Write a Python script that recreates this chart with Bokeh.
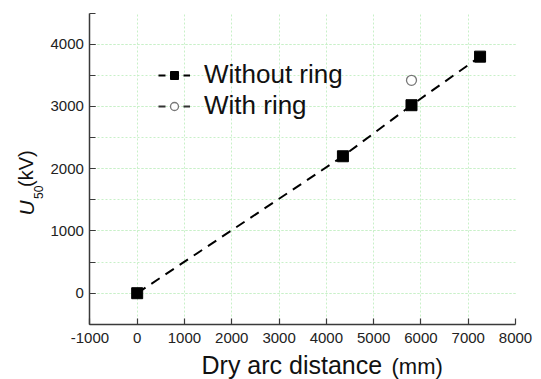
import math
from bokeh.plotting import figure
from bokeh.models import (ColumnDataSource, SingleIntervalTicker, Range1d, Legend,
                          LegendItem, Label, PrintfTickFormatter)
from bokeh.embed import file_html
from bokeh.resources import INLINE

# ---- data ----
without_x = [0, 4350, 5800, 7250]
without_y = [0, 2200, 3020, 3800]
with_x = [5800]
with_y = [3420]
label_without = "Without ring"
label_with = "With ring"
x_title_main = "Dry arc distance"
x_title_unit = "(mm)"
y_title_sym = "U"
y_title_sub = "50"
y_title_unit = "(kV)"
x_bounds = (-1000, 8000)
y_bounds = (-500, 4500)

FONT = "Liberation Sans"
W, H = 541, 379

# frame covers whole canvas; axes are placed at fixed locations inside it
p = figure(width=W, height=H, output_backend="svg", toolbar_location=None,
           x_range=Range1d(-2890, 8549), y_range=Range1d(-1386, 4702),
           min_border_left=0, min_border_right=0, min_border_top=0, min_border_bottom=0)
p.outline_line_color = None
p.background_fill_color = "white"
p.border_fill_color = "white"

xa, ya = p.xaxis[0], p.yaxis[0]
xa.fixed_location = y_bounds[0]
ya.fixed_location = x_bounds[0]
xa.bounds = x_bounds
ya.bounds = y_bounds
for ax in (xa, ya):
    ax.axis_line_color = "#3a3a3a"
    ax.axis_line_width = 1.5
    ax.major_tick_line_color = "#3a3a3a"
    ax.major_tick_line_width = 1.2
    ax.major_tick_in = 6
    ax.major_tick_out = 0
    ax.major_label_text_font = FONT
    ax.major_label_text_font_size = "15px"
    ax.major_label_text_color = "#222222"
    ax.formatter = PrintfTickFormatter(format="%d")
xa.major_label_standoff = 9
ya.major_label_standoff = 6

xa.ticker = SingleIntervalTicker(interval=1000, num_minor_ticks=0)
xa.minor_tick_line_color = None
ya.ticker = SingleIntervalTicker(interval=1000, num_minor_ticks=2)
ya.minor_tick_line_color = "#3a3a3a"
ya.minor_tick_line_width = 1.2
ya.minor_tick_in = 6
ya.minor_tick_out = 0

# grid
grid_col = "#c8f0c8"
xg, yg = p.xgrid[0], p.ygrid[0]
xg.bounds = (x_bounds[0], 7500)
yg.bounds = (y_bounds[0], 4400)
xg.cross_bounds = y_bounds
yg.cross_bounds = x_bounds
xg.grid_line_color = grid_col
xg.grid_line_dash = "2 2"
yg.grid_line_color = grid_col
yg.grid_line_dash = "2 2"
yg.minor_grid_line_color = grid_col
yg.minor_grid_line_dash = "2 2"

src_wo = ColumnDataSource(dict(x=without_x, y=without_y))
src_w = ColumnDataSource(dict(x=with_x, y=with_y))

p.line("x", "y", source=src_wo, line_color="black", line_width=2, line_dash="10 7")
sq = p.scatter("x", "y", source=src_wo, marker="square", size=11,
               fill_color="black", line_color="black")
ci = p.scatter("x", "y", source=src_w, marker="circle", size=10,
               fill_color="white", line_color="#777777", line_width=1.3)

# legend-only dashed lines (single NaN point: draws nothing in the plot)
nan_src = ColumnDataSource(dict(x=[float("nan")], y=[float("nan")]))
leg_l1 = p.line("x", "y", source=nan_src, line_color="black", line_width=2, line_dash="7 18")
leg_l2 = p.line("x", "y", source=nan_src, line_color="#333333", line_width=2, line_dash="7 18")

legend = Legend(items=[LegendItem(label=label_without, renderers=[leg_l1, sq]),
                       LegendItem(label=label_with, renderers=[leg_l2, ci])],
                location=(158, 258), glyph_width=32, glyph_height=20, label_height=20,
                spacing=0, padding=0, margin=0, label_standoff=14,
                label_text_font=FONT, label_text_font_size="26px",
                label_text_color="#111111", border_line_color=None,
                background_fill_alpha=0)
p.add_layout(legend, "center")

# axis titles (canvas-relative screen units, y measured from bottom, centred on anchor)
common = dict(x_units="screen", y_units="screen", text_font=FONT, text_color="#111111",
              text_baseline="middle", text_align="left")
p.add_layout(Label(x=201, y=14.5, text=x_title_main, text_font_size="25px", **common))
p.add_layout(Label(x=391, y=13.5, text=x_title_unit, text_font_size="22px", **common))
p.add_layout(Label(x=25.5, y=164, text=y_title_sym, text_font_size="21px",
                   text_font_style="italic", angle=math.pi / 2, **common))
p.add_layout(Label(x=37.5, y=180.5, text=y_title_sub, text_font_size="12px",
                   angle=math.pi / 2, **common))
p.add_layout(Label(x=25, y=192.5, text=y_title_unit, text_font_size="20px",
                   angle=math.pi / 2, **common))

open("out.html", "w").write(file_html(p, INLINE))
